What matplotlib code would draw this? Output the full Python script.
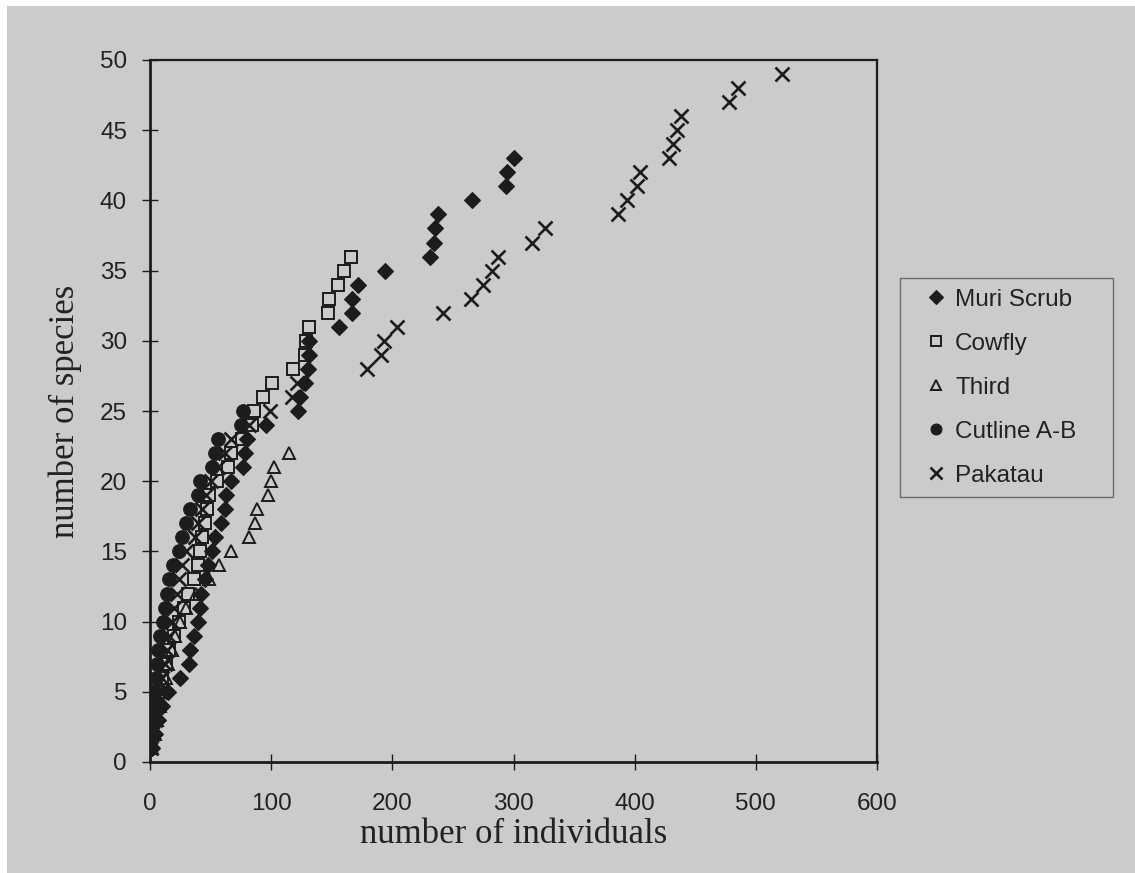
import matplotlib
matplotlib.use("Agg")
import matplotlib.pyplot as plt
from matplotlib.patches import Rectangle

# ---- data ----
muri_x = [2, 4, 7, 10, 15, 25, 32, 33, 36, 40, 41, 42, 45, 48, 51, 54, 59, 62, 63, 67,
          77, 78, 80, 96, 122, 124, 128, 130, 131, 131, 156, 167, 167, 172, 194, 231,
          234, 235, 238, 266, 294, 295, 300]
muri_y = [1, 2, 3, 4, 5, 6, 7, 8, 9, 10, 11, 12, 13, 14, 15, 16, 17, 18, 19, 20,
          21, 22, 23, 24, 25, 26, 27, 28, 29, 30, 31, 32, 33, 34, 35, 36,
          37, 38, 39, 40, 41, 42, 43]

cowfly_x = [1, 2, 3, 5, 7, 10, 13, 16, 20, 24, 28, 31, 36, 40, 41, 43, 45, 47, 49, 55,
            64, 67, 76, 84, 86, 93, 101, 118, 128, 129, 131, 147, 148, 155, 160, 166]
cowfly_y = [1, 2, 3, 4, 5, 6, 7, 8, 9, 10, 11, 12, 13, 14, 15, 16, 17, 18, 19, 20,
            21, 22, 23, 24, 25, 26, 27, 28, 29, 30, 31, 32, 33, 34, 35, 36]

third_x = [2, 4, 6, 8, 11, 13, 15, 18, 21, 25, 30, 38, 49, 57, 67, 82, 87, 88, 97, 100,
           102, 115]
third_y = [1, 2, 3, 4, 5, 6, 7, 8, 9, 10, 11, 12, 13, 14, 15, 16, 17, 18, 19, 20,
           21, 22]

cutline_x = [0.5, 1, 2, 3, 4, 5, 6, 7, 8, 11, 12, 14, 16, 19, 24, 26, 30, 33, 40, 41,
             51, 54, 56, 75, 77]
cutline_y = [1, 2, 3, 4, 5, 6, 7, 8, 9, 10, 11, 12, 13, 14, 15, 16, 17, 18, 19, 20,
             21, 22, 23, 24, 25]

pakatau_x = [1, 2, 4, 6, 8, 10, 12, 14, 16, 18, 20, 22, 24, 26, 30, 37, 40, 43, 46, 50,
             56, 62, 67, 82, 99, 117, 121, 179, 191, 193, 204, 242, 265, 275, 282, 287,
             315, 326, 386, 394, 402, 404, 428, 432, 435, 438, 478, 485, 522]
pakatau_y = [1, 2, 3, 4, 5, 6, 7, 8, 9, 10, 11, 12, 13, 14, 15, 16, 17, 18, 19, 20,
             21, 22, 23, 24, 25, 26, 27, 28, 29, 30, 31, 32, 33, 34, 35, 36,
             37, 38, 39, 40, 41, 42, 43, 44, 45, 46, 47, 48, 49]

series_names = ["Muri Scrub", "Cowfly", "Third", "Cutline A-B", "Pakatau"]
x_ticks = [0, 100, 200, 300, 400, 500, 600]
y_ticks = [0, 5, 10, 15, 20, 25, 30, 35, 40, 45, 50]
x_label = "number of individuals"
y_label = "number of species"

# ---- style ----
BG = "#cbcbcb"
INK = "#1c1c1c"
SANS = ["Liberation Sans", "DejaVu Sans"]
SERIF = ["Liberation Serif", "DejaVu Serif"]

fig = plt.figure(figsize=(11.35, 8.73), dpi=100, facecolor="white")
fig.patches.append(Rectangle((7 / 1135, 0), 1, 1 - 6 / 873, transform=fig.transFigure,
                             facecolor=BG, edgecolor="none", zorder=-10))

ax = fig.add_axes([150 / 1135, 1 - 762 / 873, (877 - 150) / 1135, (762 - 60) / 873])
ax.set_facecolor(BG)

ax.plot(muri_x, muri_y, linestyle="none", marker="D", ms=8.3, mfc=INK, mec=INK,
        mew=0.8, label=series_names[0], zorder=3)
ax.plot(cowfly_x, cowfly_y, linestyle="none", marker="s", ms=8.6, mfc="none", mec=INK,
        mew=1.4, label=series_names[1], zorder=3)
ax.plot(third_x, third_y, linestyle="none", marker="^", ms=9.2, mfc="none", mec=INK,
        mew=1.4, label=series_names[2], zorder=3)
ax.plot(cutline_x, cutline_y, linestyle="none", marker="o", ms=9.8, mfc=INK, mec=INK,
        mew=0.8, label=series_names[3], zorder=3)
ax.plot(pakatau_x, pakatau_y, linestyle="none", marker="x", ms=10.5, mec=INK,
        mew=1.9, label=series_names[4], zorder=3)

ax.set_xlim(0, 600)
ax.set_ylim(0, 50)
ax.set_xticks(x_ticks)
ax.set_yticks(y_ticks)
ax.tick_params(direction="inout", length=11, width=1.0, colors=INK, labelsize=17.5)
ax.tick_params(axis="x", pad=17)
ax.tick_params(axis="y", pad=11)
for lab in ax.get_xticklabels() + ax.get_yticklabels():
    lab.set_fontfamily(SANS)
    lab.set_color("#222222")

for side in ["left", "bottom"]:
    ax.spines[side].set_linewidth(2.0)
for side in ["top", "right"]:
    ax.spines[side].set_linewidth(1.6)
for sp in ax.spines.values():
    sp.set_color(INK)

ax.set_xlabel(x_label, family=SERIF, fontsize=25, color="#222222", labelpad=2)
ax.set_ylabel(y_label, family=SERIF, fontsize=25, color="#222222", labelpad=13)

leg = ax.legend(loc="upper left",
                bbox_to_anchor=(900 / 1135, 1 - 500 / 873, (1113 - 900) / 1135, 222 / 873),
                bbox_transform=fig.transFigure, mode="expand",
                prop={"family": SANS, "size": 17.5}, markerscale=0.8,
                frameon=True, fancybox=False, borderpad=0.45, labelspacing=0.9,
                handlelength=2.1, handletextpad=-0.28, borderaxespad=0)
leg.get_frame().set_facecolor(BG)
leg.get_frame().set_edgecolor("#555555")
leg.get_frame().set_linewidth(1.0)
for t in leg.get_texts():
    t.set_color("#222222")

fig.savefig("out.png", dpi=100, facecolor=fig.get_facecolor())
